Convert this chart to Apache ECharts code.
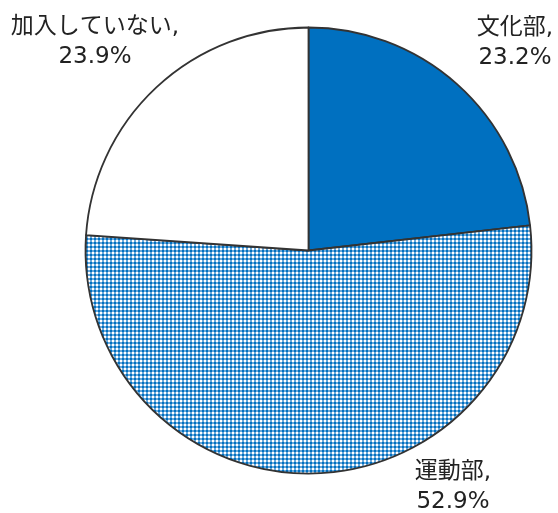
<!DOCTYPE html>
<html>
<head>
<meta charset="utf-8">
<script src="https://cdn.jsdelivr.net/npm/echarts@6/dist/echarts.min.js"></script>
<style>
  html, body { margin: 0; padding: 0; background: #fff; }
  #chart { width: 558px; height: 513px; }
</style>
</head>
<body>
<div id="chart"></div>
<script>
// Club membership shares (%)
const categories = ['文化部', '運動部', '加入していない'];
const values = [23.2, 52.9, 23.9];

// Label anchor points for each slice (centre of the two-line text block)
const labelAnchors = [
  [515, 43],
  [453, 487],
  [95, 42]
];

const BLUE = '#0070C0';

// Small grid tile used for the 運動部 slice
function gridTile() {
  const c = document.createElement('canvas');
  c.width = 4; c.height = 4;
  const ctx = c.getContext('2d');
  ctx.fillStyle = BLUE;
  ctx.fillRect(0, 0, 4, 4);
  ctx.fillStyle = '#ffffff';
  ctx.fillRect(0, 0, 2, 2);
  ctx.fillStyle = '#6aa8da';
  ctx.fillRect(2, 0, 2, 2);
  ctx.fillRect(0, 2, 2, 2);
  return c;
}

const fills = [
  BLUE,
  { image: gridTile(), repeat: 'repeat' },
  '#ffffff'
];

const chart = echarts.init(document.getElementById('chart'), null, { renderer: 'canvas' });

chart.setOption({
  animation: false,
  backgroundColor: '#ffffff',
  series: [{
    type: 'pie',
    center: [308.5, 250.5],
    radius: 223,
    startAngle: 90,
    clockwise: true,
    silent: true,
    data: categories.map((name, i) => ({
      name,
      value: values[i],
      itemStyle: { color: fills[i] }
    })),
    itemStyle: {
      borderColor: '#333333',
      borderWidth: 1.8
    },
    label: {
      show: true,
      position: 'outside',
      overflow: 'none',
      formatter: p => p.name + ',\n' + p.value.toFixed(1) + '%',
      fontFamily: 'DejaVu Sans, "Noto Sans CJK JP", sans-serif',
      fontSize: 23,
      lineHeight: 30,
      color: '#222222',
      align: 'center'
    },
    labelLine: { show: false },
    labelLayout: p => ({
      x: labelAnchors[p.dataIndex][0],
      y: labelAnchors[p.dataIndex][1],
      align: 'center',
      verticalAlign: 'middle'
    })
  }]
});
</script>
</body>
</html>
